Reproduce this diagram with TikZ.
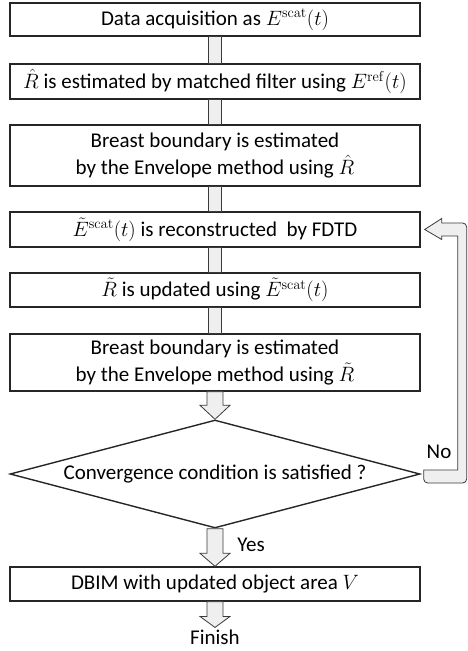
\documentclass[tikz,border=0pt]{standalone}
\usepackage[no-math]{fontspec}
\setmainfont{Carlito}
\usetikzlibrary{calc,shapes.geometric}
\definecolor{barfill}{HTML}{EFEFEF}
\definecolor{barline}{HTML}{3A3A3A}
\tikzset{
  stepbox/.style={draw=black!85, line width=1.4pt, minimum width=410pt, align=center, inner sep=0pt, font=\fontsize{21}{27}\selectfont},
  bar/.style={draw=barline, fill=barfill, line width=0.8pt},
  lbl/.style={font=\fontsize{21}{25}\selectfont, inner sep=0pt}
}
\newcommand{\fatarrow}[4]{% from, to, shaft half width, head length
  \draw[bar] ($(#1)+(-#3,0)$) -- ($(#2)+(-#3,-#4)$) -- ($(#2)+(-15,-#4)$) -- (#2) -- ($(#2)+(15,-#4)$) -- ($(#2)+(#3,-#4)$) -- ($(#1)+(#3,0)$) -- cycle;}
\begin{document}
\begin{tikzpicture}[x=1pt,y=-1pt]
\useasboundingbox (0,0) rectangle (467,651);
\node[stepbox, minimum height=33pt] (b1) at (215,19.5) {Data acquisition as $E^{\mathrm{scat}}(t)$};
\node[stepbox, minimum height=35pt] (b2) at (215,81.5) {$\hat{R}$ is estimated by matched filter using $E^{\mathrm{ref}}(t)$};
\node[stepbox, minimum height=61pt] (b3) at (215,155.5) {Breast boundary is estimated\\by the Envelope method using $\hat{R}$};
\node[stepbox, minimum height=35pt] (b4) at (215,229.5) {$\tilde{E}^{\mathrm{scat}}(t)$ is reconstructed\ \ by FDTD};
\node[stepbox, minimum height=34pt] (b5) at (215,290) {$\tilde{R}$ is updated using $\tilde{E}^{\mathrm{scat}}(t)$};
\node[stepbox, minimum height=57pt] (b6) at (215,362.5) {Breast boundary is estimated\\by the Envelope method using $\tilde{R}$};
\node[diamond, draw=black!85, line width=1.4pt, minimum width=410pt, minimum height=108pt, inner sep=0pt, aspect=3.8] (dia) at (215,474) {};
\node[lbl] (dtext) at (215,474) {Convergence condition is satisfied ?};
\node[stepbox, minimum height=34pt] (b7) at (215,584) {DBIM with updated object area $V$};
\node[lbl] (fin) at (215,637) {Finish};
\node[lbl] (yes) at (251,545) {Yes};
\node[lbl] (no) at (439,452) {No};
% connector bars
\draw[bar] ($(b1.south)+(-6.5,0)$) rectangle ($(b2.north)+(6.5,0)$);
\draw[bar] ($(b2.south)+(-6.5,0)$) rectangle ($(b3.north)+(6.5,0)$);
\draw[bar] ($(b3.south)+(-6.5,0)$) rectangle ($(b4.north)+(6.5,0)$);
\draw[bar] ($(b4.south)+(-6.5,0)$) rectangle ($(b5.north)+(6.5,0)$);
\draw[bar] ($(b5.south)+(-6.5,0)$) rectangle ($(b6.north)+(6.5,0)$);
% fat arrows
\fatarrow{b6.south}{dia.north}{8}{14}
\fatarrow{dia.south}{b7.north}{8}{13}
\coordinate (finend) at ($(fin.north)+(0,-2)$);
\fatarrow{b7.south}{finend}{8}{11}
% loop
\draw[bar] ($(dia.east)+(3,-4)$) -- ($(dia.east)+(37,-4)$) -- ($(b4.east)+(37,6.5)$) -- ($(b4.east)+(21,6.5)$) -- ($(b4.east)+(21,10)$) -- ($(b4.east)+(4,0)$) -- ($(b4.east)+(21,-11)$) -- ($(b4.east)+(21,-6.5)$) [rounded corners=4] -- ($(b4.east)+(46,-6.5)$) -- ($(dia.east)+(46,9)$) -- ($(dia.east)+(3,9)$) [sharp corners] -- cycle;
\end{tikzpicture}
\end{document}
